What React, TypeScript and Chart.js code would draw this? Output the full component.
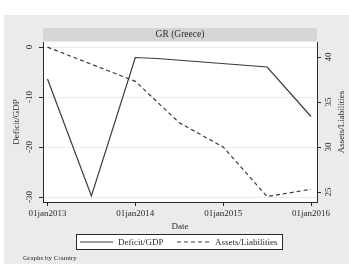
import { useEffect, useRef } from "react";
import { Chart, registerables } from "chart.js";

Chart.register(...registerables);

const chartTitle = "GR (Greece)";
const noteText = "Graphs by Country";
const xAxisTitle = "Date";
const leftAxisTitle = "Deficit/GDP";
const rightAxisTitle = "Assets/Liabilities";

const xTickValues = [2013, 2014, 2015, 2016];
const xTickLabels = ["01jan2013", "01jan2014", "01jan2015", "01jan2016"];
const leftTicks = [-30, -20, -10, 0];
const rightTicks = [25, 30, 35, 40];

const deficitDates = [2013.0, 2013.5, 2014.0, 2014.25, 2015.5, 2016.0];
const deficitValues = [-6.4, -29.8, -2.1, -2.3, -4.0, -13.9];

const assetsDates = [2013.0, 2014.0, 2014.5, 2015.0, 2015.5, 2016.0];
const assetsValues = [41.1, 37.3, 32.7, 30.0, 24.5, 25.3];

const seriesNames = ["Deficit/GDP", "Assets/Liabilities"];

const FONT = "'Liberation Serif', 'Times New Roman', serif";
const INK = "#2a2a2a";
const LINE = "#3a3a3a";

const decorPlugin = {
  id: "stataDecor",
  beforeDraw(chart: any) {
    const { ctx, chartArea: ca, width, height } = chart;
    ctx.save();
    ctx.fillStyle = "#ffffff";
    ctx.fillRect(0, 0, width, height);
    ctx.fillStyle = "#ebebeb";
    ctx.fillRect(4, 15, width - 4, height - 15);
    ctx.fillStyle = "#ffffff";
    ctx.fillRect(ca.left, ca.top, ca.right - ca.left, ca.bottom - ca.top);
    // title strip
    ctx.fillStyle = "#d5d5d5";
    ctx.fillRect(ca.left, 28, ca.right - ca.left, 13);
    ctx.fillStyle = INK;
    ctx.font = `9.5px ${FONT}`;
    ctx.textAlign = "center";
    ctx.textBaseline = "middle";
    ctx.fillText(chartTitle, (ca.left + ca.right) / 2, 34.5);
    ctx.restore();
  },
  afterDraw(chart: any) {
    const { ctx, chartArea: ca } = chart;
    ctx.save();
    ctx.fillStyle = INK;
    ctx.font = `9px ${FONT}`;
    ctx.textBaseline = "middle";
    ctx.textAlign = "center";
    // x title
    ctx.fillText(xAxisTitle, (ca.left + ca.right) / 2, 227);
    // left title
    const midY = (ca.top + ca.bottom) / 2;
    ctx.save();
    ctx.translate(17, midY);
    ctx.rotate(-Math.PI / 2);
    ctx.fillText(leftAxisTitle, 0, 0);
    ctx.restore();
    // right title
    ctx.save();
    ctx.translate(342, midY);
    ctx.rotate(-Math.PI / 2);
    ctx.fillText(rightAxisTitle, 0, 0);
    ctx.restore();

    // legend
    const bx = 76.5, by = 234.5, bw = 206, bh = 15;
    ctx.fillStyle = "#ffffff";
    ctx.fillRect(bx, by, bw, bh);
    ctx.strokeStyle = INK;
    ctx.lineWidth = 1;
    ctx.setLineDash([]);
    ctx.strokeRect(bx, by, bw, bh);
    const ly = by + bh / 2;
    ctx.strokeStyle = LINE;
    ctx.lineWidth = 1.2;
    ctx.beginPath();
    ctx.moveTo(80, ly);
    ctx.lineTo(113, ly);
    ctx.stroke();
    ctx.setLineDash([4, 3]);
    ctx.beginPath();
    ctx.moveTo(177, ly);
    ctx.lineTo(212, ly);
    ctx.stroke();
    ctx.setLineDash([]);
    ctx.fillStyle = INK;
    ctx.textAlign = "left";
    ctx.fillText(seriesNames[0], 118, ly + 0.5);
    ctx.fillText(seriesNames[1], 215, ly + 0.5);

    // note
    ctx.font = `7px ${FONT}`;
    ctx.fillText(noteText, 23, 258);
    ctx.restore();
  },
};

export default function App() {
  const ref = useRef<HTMLCanvasElement | null>(null);

  useEffect(() => {
    if (!ref.current) return;
    const tickFont = { family: FONT, size: 9 };
    const chart = new Chart(ref.current, {
      type: "line",
      data: {
        datasets: [
          {
            label: seriesNames[0],
            data: deficitDates.map((d, i) => ({ x: d, y: deficitValues[i] })),
            yAxisID: "y",
            borderColor: LINE,
            borderWidth: 1.2,
            pointRadius: 0,
            tension: 0,
            fill: false,
          },
          {
            label: seriesNames[1],
            data: assetsDates.map((d, i) => ({ x: d, y: assetsValues[i] })),
            yAxisID: "y1",
            borderColor: LINE,
            borderWidth: 1.2,
            borderDash: [4, 3],
            pointRadius: 0,
            tension: 0,
            fill: false,
          },
        ],
      },
      plugins: [decorPlugin],
      options: {
        responsive: false,
        animation: false,
        devicePixelRatio: 1,
        layout: { padding: { top: 42, left: 0, right: 0, bottom: 0 } },
        plugins: {
          legend: { display: false },
          title: { display: false },
          tooltip: { enabled: false },
        },
        scales: {
          x: {
            type: "linear",
            position: "bottom",
            min: 2012.949,
            max: 2016.068,
            afterBuildTicks: (s: any) => {
              s.ticks = xTickValues.map((v) => ({ value: v }));
            },
            afterFit: (s: any) => {
              s.height = 62;
            },
            ticks: {
              autoSkip: false,
              maxRotation: 0,
              minRotation: 0,
              padding: 2,
              color: INK,
              font: tickFont,
              callback: (v: any) => {
                const i = xTickValues.indexOf(Number(v));
                return i >= 0 ? xTickLabels[i] : "";
              },
            },
            grid: {
              drawOnChartArea: false,
              drawTicks: true,
              tickLength: 4,
              tickColor: INK,
            },
            border: { display: true, color: INK, width: 1 },
          },
          y: {
            type: "linear",
            position: "left",
            min: -31,
            max: 1,
            afterBuildTicks: (s: any) => {
              s.ticks = leftTicks.map((v) => ({ value: v }));
            },
            afterFit: (s: any) => {
              s.width = 43;
            },
            ticks: {
              minRotation: 90,
              maxRotation: 90,
              crossAlign: "center",
              padding: 3,
              color: INK,
              font: tickFont,
              autoSkip: false,
            },
            grid: {
              drawOnChartArea: true,
              color: "#ececec",
              tickColor: INK,
              tickLength: 4,
              lineWidth: 1,
            },
            border: { display: true, color: INK, width: 1 },
          },
          y1: {
            type: "linear",
            position: "right",
            min: 23.89,
            max: 41.67,
            afterBuildTicks: (s: any) => {
              s.ticks = rightTicks.map((v) => ({ value: v }));
            },
            afterFit: (s: any) => {
              s.width = 32;
            },
            ticks: {
              minRotation: 90,
              maxRotation: 90,
              crossAlign: "center",
              padding: 3,
              color: INK,
              font: tickFont,
              autoSkip: false,
            },
            grid: {
              drawOnChartArea: false,
              tickColor: INK,
              tickLength: 4,
            },
            border: { display: true, color: INK, width: 1 },
          },
        },
      } as any,
    });
    return () => chart.destroy();
  }, []);

  return (
    <div style={{ position: "absolute", left: 0, top: 0, width: 349, height: 264 }}>
      <canvas ref={ref} width={349} height={264} style={{ display: "block", width: 349, height: 264 }} />
    </div>
  );
}
